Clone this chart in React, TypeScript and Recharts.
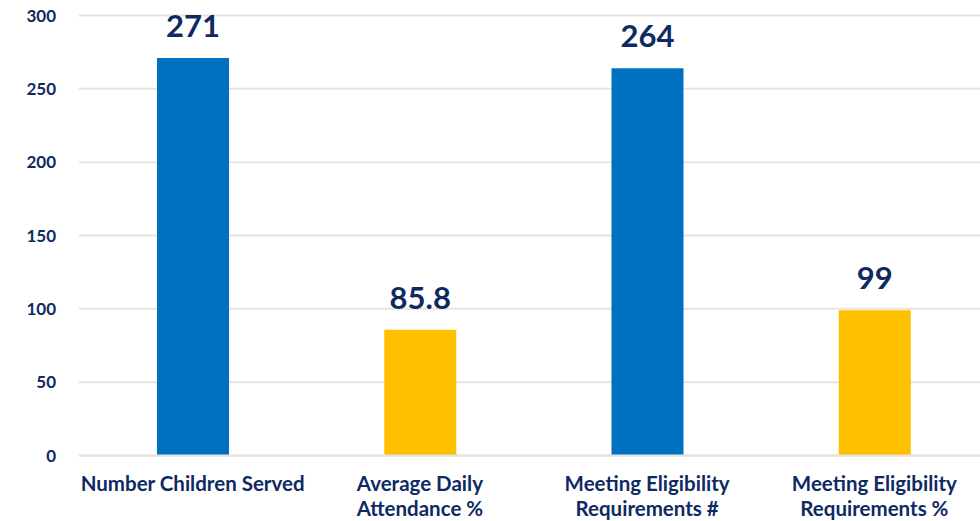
import React from 'react';
import { BarChart, Bar, XAxis, YAxis, CartesianGrid, Cell, LabelList } from 'recharts';

// categories (line breaks mark the wrapped tick labels)
const categories = [
  'Number Children Served',
  'Average Daily\nAttendance %',
  'Meeting Eligibility\nRequirements #',
  'Meeting Eligibility\nRequirements %',
];
const values = [271, 85.8, 264, 99];
const barColors = ['#0070C0', '#FFC000', '#0070C0', '#FFC000'];
const yTicks = [0, 50, 100, 150, 200, 250, 300];

const NAVY = '#0E2A63';
const FONT = 'Lato, "Open Sans", sans-serif';

const data = categories.map((name, i) => ({ name, value: values[i] }));

const YTick = (props: any) => {
  const { y, payload } = props;
  return (
    <text x={56} y={y} dy={6} textAnchor="end" fill={NAVY} fontSize={17} fontWeight={700} fontFamily={FONT}>
      {payload.value}
    </text>
  );
};

const XTick = (props: any) => {
  const { x, y, payload } = props;
  const lines = String(payload.value).split('\n');
  return (
    <g transform={`translate(${x},${y})`}>
      {lines.map((ln, i) => (
        <text key={i} x={0} y={27 + i * 25} textAnchor="middle" fill={NAVY} fontSize={20.5} fontWeight={700} fontFamily={FONT}>
          {ln}
        </text>
      ))}
    </g>
  );
};

export default function App() {
  return (
    <div style={{ position: 'absolute', left: 0, top: 0, width: 980, height: 521, overflow: 'hidden', background: '#fff' }}>
      <BarChart
        width={1000}
        height={521}
        data={data}
        margin={{ top: 15.5, right: 12, bottom: 5.5, left: 0 }}
        barCategoryGap={0}
      >
        <CartesianGrid vertical={false} stroke="#E8E4DB" strokeWidth={2} />
        <XAxis
          dataKey="name"
          interval={0}
          height={60}
          axisLine={{ stroke: '#E8E4DB', strokeWidth: 2 }}
          tickLine={false}
          tick={<XTick />}
        />
        <YAxis
          width={79}
          domain={[0, 300]}
          ticks={yTicks}
          axisLine={false}
          tickLine={false}
          tick={<YTick />}
        />
        <Bar dataKey="value" barSize={72} isAnimationActive={false}>
          {data.map((d, i) => (
            <Cell key={d.name} fill={barColors[i]} />
          ))}
          <LabelList
            dataKey="value"
            position="top"
            offset={21}
            fill={NAVY}
            fontSize={31}
            fontWeight={700}
            fontFamily={FONT}
          />
        </Bar>
      </BarChart>
    </div>
  );
}
